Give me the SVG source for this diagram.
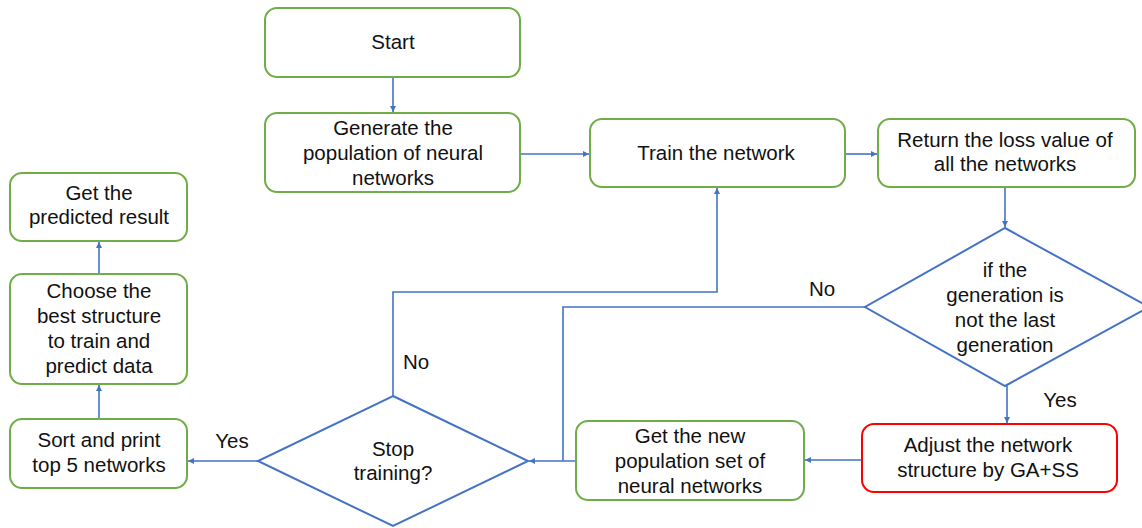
<svg xmlns="http://www.w3.org/2000/svg" width="1142" height="528" viewBox="0 0 1142 528">
<defs>
<style>
.box{fill:#fff;stroke:#70AD47;stroke-width:2}
.red{fill:#fff;stroke:#FF0000;stroke-width:2}
.dia{fill:#fff;stroke:#4472C4;stroke-width:2}
.ln{fill:none;stroke:#4472C4;stroke-width:1.6}
text{font-family:"Liberation Sans",Arial,sans-serif;font-size:20.5px;fill:#111;text-anchor:middle}
</style>
<marker id="ah" viewBox="0 0 8 8" refX="8" refY="4" markerWidth="6" markerHeight="6" markerUnits="userSpaceOnUse" orient="auto">
<path d="M0,0 L8,4 L0,8 Z" fill="#4472C4"/>
</marker>
</defs>
<rect width="1142" height="528" fill="#fff"/>
<g id="connectors">
<path class="ln" d="M393 77 V112" marker-end="url(#ah)"/>
<path class="ln" d="M520 154 H589" marker-end="url(#ah)"/>
<path class="ln" d="M845 154 H877" marker-end="url(#ah)"/>
<path class="ln" d="M1005 187 V227" marker-end="url(#ah)"/>
<path class="ln" d="M1007 386 V423" marker-end="url(#ah)"/>
<path class="ln" d="M862 460 H805" marker-end="url(#ah)"/>
<path class="ln" d="M576 461 H529" marker-end="url(#ah)"/>
<path class="ln" d="M865 307 H563 V461"/>
<path class="ln" d="M393 396 V292 H717 V188" marker-end="url(#ah)"/>
<path class="ln" d="M258 461 H188" marker-end="url(#ah)"/>
<path class="ln" d="M99 418 V385" marker-end="url(#ah)"/>
<path class="ln" d="M99 274 V242" marker-end="url(#ah)"/>
<text x="822" y="296">No</text>
<text x="416" y="369">No</text>
<text x="1060" y="407">Yes</text>
<text x="232" y="448">Yes</text>
</g>
<g id="start">
<rect class="box" x="265" y="8" width="255" height="69" rx="12"/>
<text x="393" y="49">Start</text>
</g>
<g id="generate">
<rect class="box" x="265" y="113" width="255" height="79" rx="12"/>
<text x="393" y="135">Generate the</text>
<text x="393" y="160">population of neural</text>
<text x="393" y="185">networks</text>
</g>
<g id="train">
<rect class="box" x="590" y="119" width="255" height="68" rx="12"/>
<text x="716" y="160">Train the network</text>
</g>
<g id="return">
<rect class="box" x="878" y="119" width="257" height="68" rx="12"/>
<text x="1005" y="147">Return the loss value of</text>
<text x="1005" y="171">all the networks</text>
</g>
<g id="decision-generation">
<polygon class="dia" points="1005,228 1149,307 1005,386 865,307"/>
<text x="1005" y="277">if the</text>
<text x="1005" y="302">generation is</text>
<text x="1005" y="327">not the last</text>
<text x="1005" y="352">generation</text>
</g>
<g id="adjust">
<rect class="red" x="862" y="424" width="255" height="68" rx="12"/>
<text x="988" y="452">Adjust the network</text>
<text x="988" y="477">structure by GA+SS</text>
</g>
<g id="new-population">
<rect class="box" x="576" y="421" width="228" height="79" rx="12"/>
<text x="690" y="443">Get the new</text>
<text x="690" y="468">population set of</text>
<text x="690" y="493">neural networks</text>
</g>
<g id="stop">
<polygon class="dia" points="393,396 528,461 393,526 258,461"/>
<text x="393" y="456">Stop</text>
<text x="393" y="480">training?</text>
</g>
<g id="sort">
<rect class="box" x="10" y="419" width="177" height="69" rx="12"/>
<text x="99" y="447">Sort and print</text>
<text x="99" y="472">top 5 networks</text>
</g>
<g id="choose">
<rect class="box" x="10" y="274" width="177" height="110" rx="12"/>
<text x="99" y="298">Choose the</text>
<text x="99" y="323">best structure</text>
<text x="99" y="348">to train and</text>
<text x="99" y="373">predict data</text>
</g>
<g id="predicted">
<rect class="box" x="10" y="173" width="177" height="68" rx="12"/>
<text x="99" y="200">Get the</text>
<text x="99" y="224">predicted result</text>
</g>
</svg>
